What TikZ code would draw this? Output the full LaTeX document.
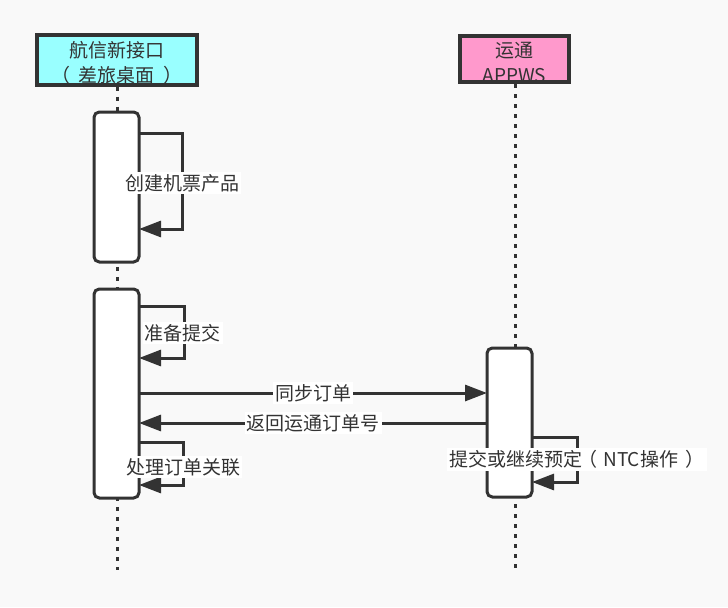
\documentclass[tikz,border=0pt]{standalone}
\usepackage{fontspec}
\setmainfont{Noto Sans CJK SC}
\usetikzlibrary{arrows.meta}
\definecolor{ink}{HTML}{333333}
\definecolor{bgc}{HTML}{F9F9F9}
\definecolor{cyanbox}{HTML}{99FFFF}
\definecolor{pinkbox}{HTML}{FF99CC}
\tikzset{
  actor/.style={draw=ink, line width=3pt, text=ink, align=center, inner sep=0pt,
    font=\fontsize{14.25pt}{18.75pt}\selectfont},
  actbox/.style={draw=ink, fill=white, line width=2.25pt, rounded corners=4pt, inner sep=0pt,
    minimum width=33.75pt},
  lifeline/.style={draw=ink, line width=2.25pt, dash pattern=on 3pt off 4.5pt},
  msg/.style={draw=ink, line width=2.25pt, -{Triangle[length=16.5pt,width=12pt]}},
  lbl/.style={fill=white, text=ink, inner sep=1.5pt, font=\fontsize{14.25pt}{18pt}\selectfont}
}
\begin{document}
\begin{tikzpicture}[x=0.75pt,y=-0.75pt]
\fill[bgc] (0,0) rectangle (728,607);
\useasboundingbox (0,0) rectangle (728,607);
% actors
\node[actor, fill=cyanbox, minimum width=120pt, minimum height=34.5pt] (A) at (117,60)
  {\rule{0pt}{17pt}航信新接口\\\kern-0.25em（\kern0.45em 差旅桌面\kern0.45em）\kern-0.25em};
\node[actor, fill=pinkbox, minimum width=81.75pt, minimum height=34.5pt] (B) at (514.5,59)
  {\rule{0pt}{16pt}运通\\APPWS};
% lifeline ends
\coordinate (Aend) at (117,570);
\coordinate (Bend) at (515,570);
\draw[lifeline] (A.south) -- (Aend);
\draw[lifeline] (B.south -| Bend) -- (Bend);
% activations
\node[actbox, minimum height=112.5pt] (a1) at (116.5,187) {};
\node[actbox, minimum height=156.75pt] (a2) at (116.5,393.5) {};
\node[actbox, minimum height=111.75pt] (b1) at (509.5,422.5) {};
% self loop 1
\coordinate (s1a) at (139,133);
\coordinate (s1b) at (182,133);
\coordinate (s1c) at (182,229);
\coordinate (s1d) at (139,229);
\draw[msg] (s1a) -- (s1b) -- node[lbl, pos=0.52]{创建机票产品} (s1c) -- (s1d);
% self loop 2
\coordinate (s2a) at (139,306);
\coordinate (s2b) at (184,306);
\coordinate (s2c) at (184,358);
\coordinate (s2d) at (139,358);
\draw[msg] (s2a) -- (s2b) -- node[lbl, pos=0.52, xshift=-1pt]{准备提交} (s2c) -- (s2d);
% messages
\coordinate (m1a) at (139,393);
\coordinate (m1b) at (487,393);
\draw[msg] (m1a) -- node[lbl, pos=0.5]{同步订单} (m1b);
\coordinate (m2a) at (487,423);
\coordinate (m2b) at (139,423);
\draw[msg] (m2a) -- node[lbl, pos=0.5]{返回运通订单号} (m2b);
% self loop 3
\coordinate (s3a) at (139,442);
\coordinate (s3b) at (183,442);
\coordinate (s3c) at (183,485);
\coordinate (s3d) at (139,485);
\draw[msg] (s3a) -- (s3b) -- node[lbl, pos=0.58]{处理订单关联} (s3c) -- (s3d);
% self loop 4
\coordinate (s4a) at (532,437);
\coordinate (s4b) at (577,437);
\coordinate (s4c) at (577,482);
\coordinate (s4d) at (532,482);
\draw[msg] (s4a) -- (s4b) -- node[lbl, pos=0.5]{提交或继续预定\kern-0.2em（\kern0.3em NTC操作\kern0.4em）} (s4c) -- (s4d);
\end{tikzpicture}
\end{document}
